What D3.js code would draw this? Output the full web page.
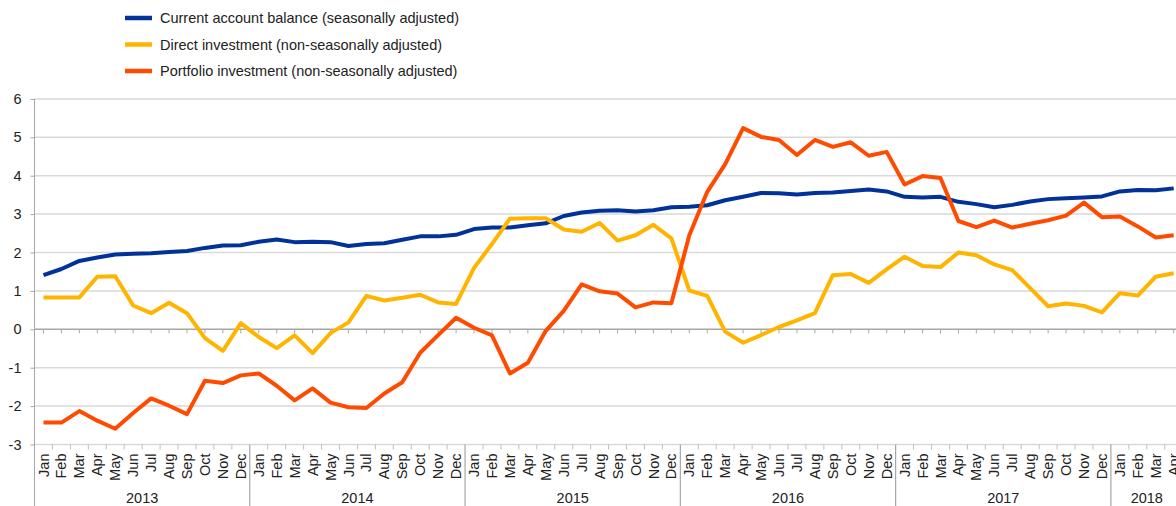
<!DOCTYPE html>
<html>
<head>
<meta charset="utf-8">
<script src="https://cdn.jsdelivr.net/npm/d3@7"></script>
<style>
  body { margin: 0; background: #fff; }
  svg { display: block; font-family: "Liberation Sans", Arial, sans-serif; }
</style>
</head>
<body>
<div id="chart"></div>
<script>
// months Jan 2013 .. Apr 2018
const monthNames = ["Jan","Feb","Mar","Apr","May","Jun","Jul","Aug","Sep","Oct","Nov","Dec"];
const years = [2013, 2014, 2015, 2016, 2017, 2018];
const monthCount = 64;
const yTicks = [-3, -2, -1, 0, 1, 2, 3, 4, 5, 6];

const currentAccount = [
  1.41, 1.57, 1.78, 1.87, 1.95, 1.97, 1.98, 2.01, 2.04, 2.12, 2.18, 2.19,
  2.28, 2.34, 2.27, 2.28, 2.27, 2.17, 2.22, 2.24, 2.33, 2.42, 2.42, 2.46,
  2.61, 2.65, 2.65, 2.71, 2.76, 2.95, 3.04, 3.09, 3.10, 3.07, 3.10, 3.18,
  3.19, 3.23, 3.36, 3.45, 3.55, 3.54, 3.51, 3.55, 3.56, 3.60, 3.64, 3.59,
  3.45, 3.43, 3.45, 3.32, 3.26, 3.18, 3.24, 3.33, 3.39, 3.41, 3.43, 3.46,
  3.59, 3.63, 3.62, 3.67
];
const directInvestment = [
  0.83, 0.83, 0.83, 1.37, 1.38, 0.62, 0.42, 0.69, 0.42, -0.23, -0.56, 0.16,
  -0.20, -0.49, -0.16, -0.62, -0.10, 0.18, 0.87, 0.75, 0.82, 0.90, 0.70, 0.66,
  1.60, 2.22, 2.88, 2.89, 2.89, 2.60, 2.54, 2.77, 2.31, 2.45, 2.72, 2.37,
  1.01, 0.87, -0.06, -0.35, -0.15, 0.06, 0.23, 0.42, 1.41, 1.44, 1.21, 1.56,
  1.89, 1.65, 1.62, 2.00, 1.93, 1.69, 1.54, 1.07, 0.60, 0.67, 0.61, 0.44,
  0.94, 0.88, 1.37, 1.46
];
const portfolioInvestment = [
  -2.43, -2.43, -2.13, -2.38, -2.59, -2.18, -1.80, -1.99, -2.21, -1.34, -1.40, -1.20,
  -1.15, -1.47, -1.85, -1.54, -1.91, -2.03, -2.05, -1.67, -1.38, -0.61, -0.15, 0.30,
  0.04, -0.16, -1.15, -0.87, -0.04, 0.48, 1.17, 0.99, 0.93, 0.57, 0.70, 0.68,
  2.45, 3.58, 4.30, 5.24, 5.01, 4.93, 4.54, 4.93, 4.75, 4.87, 4.52, 4.62,
  3.77, 3.99, 3.94, 2.82, 2.66, 2.83, 2.65, 2.75, 2.84, 2.96, 3.30, 2.92,
  2.94, 2.68, 2.39, 2.45
];

const seriesNames = [
  "Current account balance (seasonally adjusted)",
  "Direct investment (non-seasonally adjusted)",
  "Portfolio investment (non-seasonally adjusted)"
];
const seriesColors = ["#003299", "#ffb400", "#ff4b00"];
const seriesValues = [currentAccount, directInvestment, portfolioInvestment];

const width = 1176, height = 506;
const left = 34.5, step = 17.94;

const svg = d3.select("#chart").append("svg")
  .attr("width", width)
  .attr("height", height);

const x = d3.scaleBand()
  .domain(d3.range(monthCount))
  .range([left, left + monthCount * step])
  .padding(0);
const cx = i => x(i) + x.bandwidth() / 2;

const y = d3.scaleLinear()
  .domain([-3, 6])
  .range([444.5, 98.9]);

// gridlines
svg.append("g")
  .selectAll("line")
  .data(yTicks.filter(d => d !== 0))
  .join("line")
  .attr("x1", left).attr("x2", width)
  .attr("y1", d => y(d)).attr("y2", d => y(d))
  .attr("stroke", "#d9d9d9")
  .attr("stroke-width", 1.5);

// y axis (plain hyphen for negatives, like the original)
const yAxis = svg.append("g")
  .attr("transform", `translate(${left},0)`)
  .call(d3.axisLeft(y).tickValues(yTicks).tickSize(4).tickPadding(9).tickFormat(d => String(d)));
yAxis.select(".domain").remove();
yAxis.selectAll(".tick line").attr("stroke", "#a6a6a6");
yAxis.selectAll("text").attr("font-size", 14.5).attr("fill", "#222")
  .attr("font-family", "Liberation Sans, Arial, sans-serif");
svg.append("line")
  .attr("x1", left).attr("x2", left)
  .attr("y1", y(6)).attr("y2", height)
  .attr("stroke", "#a6a6a6").attr("stroke-width", 1);

// zero line with ticks at month centres
svg.append("line")
  .attr("x1", left).attr("x2", width)
  .attr("y1", y(0)).attr("y2", y(0))
  .attr("stroke", "#a6a6a6").attr("stroke-width", 1.5);
svg.append("g")
  .selectAll("line")
  .data(d3.range(monthCount))
  .join("line")
  .attr("x1", d => cx(d)).attr("x2", d => cx(d))
  .attr("y1", y(0)).attr("y2", y(0) + 4)
  .attr("stroke", "#a6a6a6");

// bottom category axis: ticks at month boundaries, long ones between years
svg.append("g")
  .selectAll("line")
  .data(d3.range(1, monthCount))
  .join("line")
  .attr("x1", d => x(d)).attr("x2", d => x(d))
  .attr("y1", y(-3)).attr("y2", d => d % 12 === 0 ? height : y(-3) + 5)
  .attr("stroke", d => d % 12 === 0 ? "#a6a6a6" : "#bfbfbf")
  .attr("stroke-width", d => d % 12 === 0 ? 1.2 : 1);

svg.append("g")
  .selectAll("text")
  .data(d3.range(monthCount))
  .join("text")
  .attr("transform", d => `translate(${cx(d)},${y(-3) + 9}) rotate(-90)`)
  .attr("text-anchor", "end")
  .attr("dy", "0.35em")
  .attr("font-size", 14.5)
  .attr("fill", "#222")
  .text(d => monthNames[d % 12]);

svg.append("g")
  .selectAll("text")
  .data(years)
  .join("text")
  .attr("x", (d, i) => {
    const a = x(i * 12);
    const b = Math.min(x(Math.min(i * 12 + 11, monthCount - 1)) + x.bandwidth(), left + monthCount * step);
    return (a + b) / 2;
  })
  .attr("y", 503)
  .attr("text-anchor", "middle")
  .attr("font-size", 14.5)
  .attr("fill", "#222")
  .text(d => d);

// lines
const line = d3.line()
  .x((d, i) => cx(i))
  .y(d => y(d));

svg.append("g")
  .selectAll("path")
  .data(seriesValues)
  .join("path")
  .attr("d", d => line(d))
  .attr("fill", "none")
  .attr("stroke", (d, i) => seriesColors[i])
  .attr("stroke-width", 4)
  .attr("stroke-linejoin", "round");

// legend
const legend = svg.append("g")
  .selectAll("g")
  .data(seriesNames)
  .join("g")
  .attr("transform", (d, i) => `translate(125,${18 + i * 26.5})`);
legend.append("line")
  .attr("x1", 0).attr("x2", 27)
  .attr("stroke", (d, i) => seriesColors[i])
  .attr("stroke-width", 4.5);
legend.append("text")
  .attr("x", 35)
  .attr("dy", "0.35em")
  .attr("font-size", 14.5)
  .attr("fill", "#222")
  .text(d => d);
</script>
</body>
</html>
